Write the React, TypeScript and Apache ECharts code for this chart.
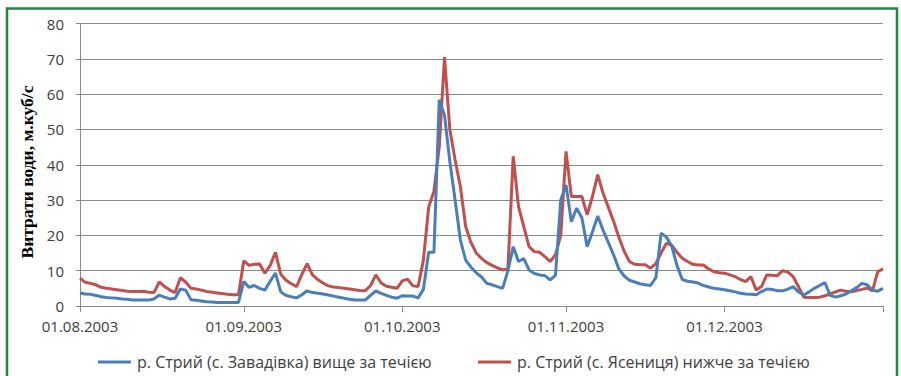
import React, { useEffect, useRef } from "react";
import * as echarts from "echarts";

const START_DATE = "2003-08-01";
const DAY_COUNT = 153;

const yTicks = [0, 10, 20, 30, 40, 50, 60, 70, 80];

const seriesNames = [
  "р. Стрий (с. Завадівка) вище за течією",
  "р. Стрий (с. Ясениця) нижче за течією",
];

// Zavadivka (upstream), daily 01.08.2003 - 31.12.2003
const upstreamAug = [3.7, 3.4, 3.3, 3.0, 2.6, 2.4, 2.3, 2.2, 2.0, 1.9, 1.7, 1.7, 1.7, 1.7, 2.0, 3.1, 2.5, 2.0, 2.2, 4.8, 4.5, 1.8, 1.6, 1.4, 1.2, 1.1, 1.0, 1.0, 1.0, 1.0, 1.0];
const upstreamSep = [6.9, 5.3, 5.8, 5.0, 4.5, 7.0, 9.3, 4.0, 3.0, 2.6, 2.3, 3.2, 4.3, 3.8, 3.6, 3.4, 3.1, 2.8, 2.5, 2.2, 1.9, 1.7, 1.7, 1.7, 3.0, 4.3, 3.6, 3.0, 2.5, 2.2];
const upstreamOct = [2.9, 2.8, 2.8, 2.3, 4.7, 15.2, 15.2, 58.4, 54, 41, 30, 18.7, 13, 11, 9.4, 8.2, 6.4, 6.0, 5.5, 5.0, 10, 16.8, 12.6, 13.4, 10.2, 9.2, 8.8, 8.6, 7.4, 8.7, 30];
const upstreamNov = [34.3, 23.9, 27.7, 25, 16.8, 21, 25.5, 21.5, 18, 14.5, 10.5, 8.5, 7.3, 6.8, 6.3, 6.0, 5.8, 8.0, 20.6, 19.5, 17, 11.5, 7.5, 7.0, 6.8, 6.5, 5.8, 5.4, 5.0, 4.8];
const upstreamDec = [4.6, 4.3, 4.0, 3.6, 3.4, 3.3, 3.2, 4.1, 4.8, 4.7, 4.3, 4.3, 4.8, 5.5, 4.0, 3.1, 4.0, 5.0, 5.8, 6.6, 3.0, 2.5, 2.9, 3.4, 4.3, 5.2, 6.4, 6.0, 4.5, 4.2, 5.0];

// Yasenytsia (downstream)
const downstreamAug = [7.9, 6.7, 6.4, 6.0, 5.3, 5.0, 4.8, 4.6, 4.4, 4.2, 4.1, 4.1, 4.2, 3.9, 3.8, 6.8, 5.5, 4.5, 3.8, 8.0, 6.8, 5.0, 4.8, 4.5, 4.1, 3.9, 3.7, 3.5, 3.3, 3.2, 3.2];
const downstreamSep = [12.8, 11.5, 11.8, 11.9, 9.3, 11.5, 15.2, 9.0, 7.3, 6.3, 5.5, 9.0, 12.0, 8.8, 7.5, 6.5, 5.7, 5.4, 5.2, 5.0, 4.8, 4.6, 4.4, 4.3, 5.8, 8.8, 6.5, 5.6, 5.3, 5.0];
const downstreamOct = [7.1, 7.6, 5.7, 5.5, 13, 28, 32.5, 45, 70.5, 50, 41.4, 33.8, 22.5, 18, 15, 13.5, 12.3, 11.5, 10.8, 10.2, 10.5, 42.4, 28.2, 22.5, 16.8, 15.4, 15.2, 14, 12.6, 14.5, 20];
const downstreamNov = [43.8, 31, 31, 31, 25.8, 31, 37.2, 32, 28, 24, 19.5, 15.5, 12.6, 11.8, 11.7, 11.7, 10.7, 12.0, 15, 17.8, 17.2, 15.2, 13.5, 12.6, 11.8, 11.6, 11.6, 10.5, 9.7, 9.4];
const downstreamDec = [9.3, 8.8, 8.3, 7.5, 6.9, 8.3, 4.5, 5.5, 8.8, 8.7, 8.6, 10.0, 9.6, 8.3, 5.5, 2.5, 2.4, 2.4, 2.5, 2.9, 3.4, 4.0, 4.5, 4.2, 4.0, 4.4, 4.7, 5.1, 4.3, 9.7, 10.5];

const upstream = [...upstreamAug, ...upstreamSep, ...upstreamOct, ...upstreamNov, ...upstreamDec];
const downstream = [...downstreamAug, ...downstreamSep, ...downstreamOct, ...downstreamNov, ...downstreamDec];

function buildDates(start: string, count: number): string[] {
  const out: string[] = [];
  const d = new Date(start + "T00:00:00Z");
  for (let i = 0; i < count; i++) {
    const dd = String(d.getUTCDate()).padStart(2, "0");
    const mm = String(d.getUTCMonth() + 1).padStart(2, "0");
    out.push(`${dd}.${mm}.${d.getUTCFullYear()}`);
    d.setUTCDate(d.getUTCDate() + 1);
  }
  return out;
}

const dates = buildDates(START_DATE, DAY_COUNT);

const BLUE = "#4a7ebb";
const RED = "#c0504d";
const GRID = "#8a8a8a";
const TEXT = "#404040";

export default function App() {
  const ref = useRef<HTMLDivElement>(null);
  useEffect(() => {
    if (!ref.current) return;
    const chart = echarts.init(ref.current, undefined, { renderer: "svg" });
    const last = dates.length - 1;
    const legendCommon = {
      top: 354,
      icon: "rect",
      itemWidth: 33,
      itemHeight: 3,
      itemGap: 0,
      padding: 0,
      textStyle: { fontFamily: "Open Sans", fontSize: 16, color: TEXT, padding: [0, 0, 0, 1] },
    };
    chart.setOption({
      animation: false,
      backgroundColor: "#ffffff",
      grid: { left: 80, right: 18, top: 23.5, bottom: 70, containLabel: false },
      graphic: [
        {
          type: "rect",
          shape: { x: 7, y: 8.5, width: 890, height: 380 },
          style: { fill: "none", stroke: "#1a8a3c", lineWidth: 2.5 },
          z: 10,
        },
        {
          type: "text",
          x: 27,
          y: 172,
          rotation: Math.PI / 2,
          style: {
            text: "Витрати води, м.куб/с",
            font: "bold 17.5px 'Liberation Serif', 'Times New Roman', serif",
            fill: "#000000",
            textAlign: "center",
            textVerticalAlign: "middle",
          },
        },
      ],
      legend: [
        { ...legendCommon, data: [seriesNames[0]], left: 98 },
        { ...legendCommon, data: [seriesNames[1]], left: 478 },
      ],
      xAxis: {
        type: "category",
        data: dates,
        boundaryGap: false,
        axisLine: { show: true, lineStyle: { color: GRID, width: 1 } },
        axisTick: {
          show: true,
          length: 6,
          lineStyle: { color: GRID },
          interval: (i: number, v: string) => v.startsWith("01.") || i === last,
        },
        axisLabel: {
          interval: (_i: number, v: string) => v.startsWith("01."),
          margin: 12,
          fontFamily: "Open Sans",
          fontSize: 15,
          color: TEXT,
        },
        splitLine: { show: false },
      },
      yAxis: {
        type: "value",
        min: yTicks[0],
        max: yTicks[yTicks.length - 1],
        interval: yTicks[1] - yTicks[0],
        axisLine: { show: true, lineStyle: { color: GRID, width: 1 } },
        axisTick: { show: true, length: 4, lineStyle: { color: GRID } },
        axisLabel: { margin: 16, fontFamily: "Open Sans", fontSize: 15, color: TEXT },
        splitLine: { show: true, lineStyle: { color: GRID, width: 1 } },
      },
      series: [
        {
          name: seriesNames[0],
          type: "line",
          data: upstream,
          showSymbol: false,
          symbol: "none",
          lineStyle: { color: BLUE, width: 3 },
          itemStyle: { color: BLUE },
          z: 3,
        },
        {
          name: seriesNames[1],
          type: "line",
          data: downstream,
          showSymbol: false,
          symbol: "none",
          lineStyle: { color: RED, width: 3 },
          itemStyle: { color: RED },
          z: 2,
        },
      ],
    });
    return () => chart.dispose();
  }, []);
  return (
    <div
      ref={ref}
      style={{ position: "fixed", left: 0, top: 0, width: 901, height: 376, background: "#fff" }}
    />
  );
}
